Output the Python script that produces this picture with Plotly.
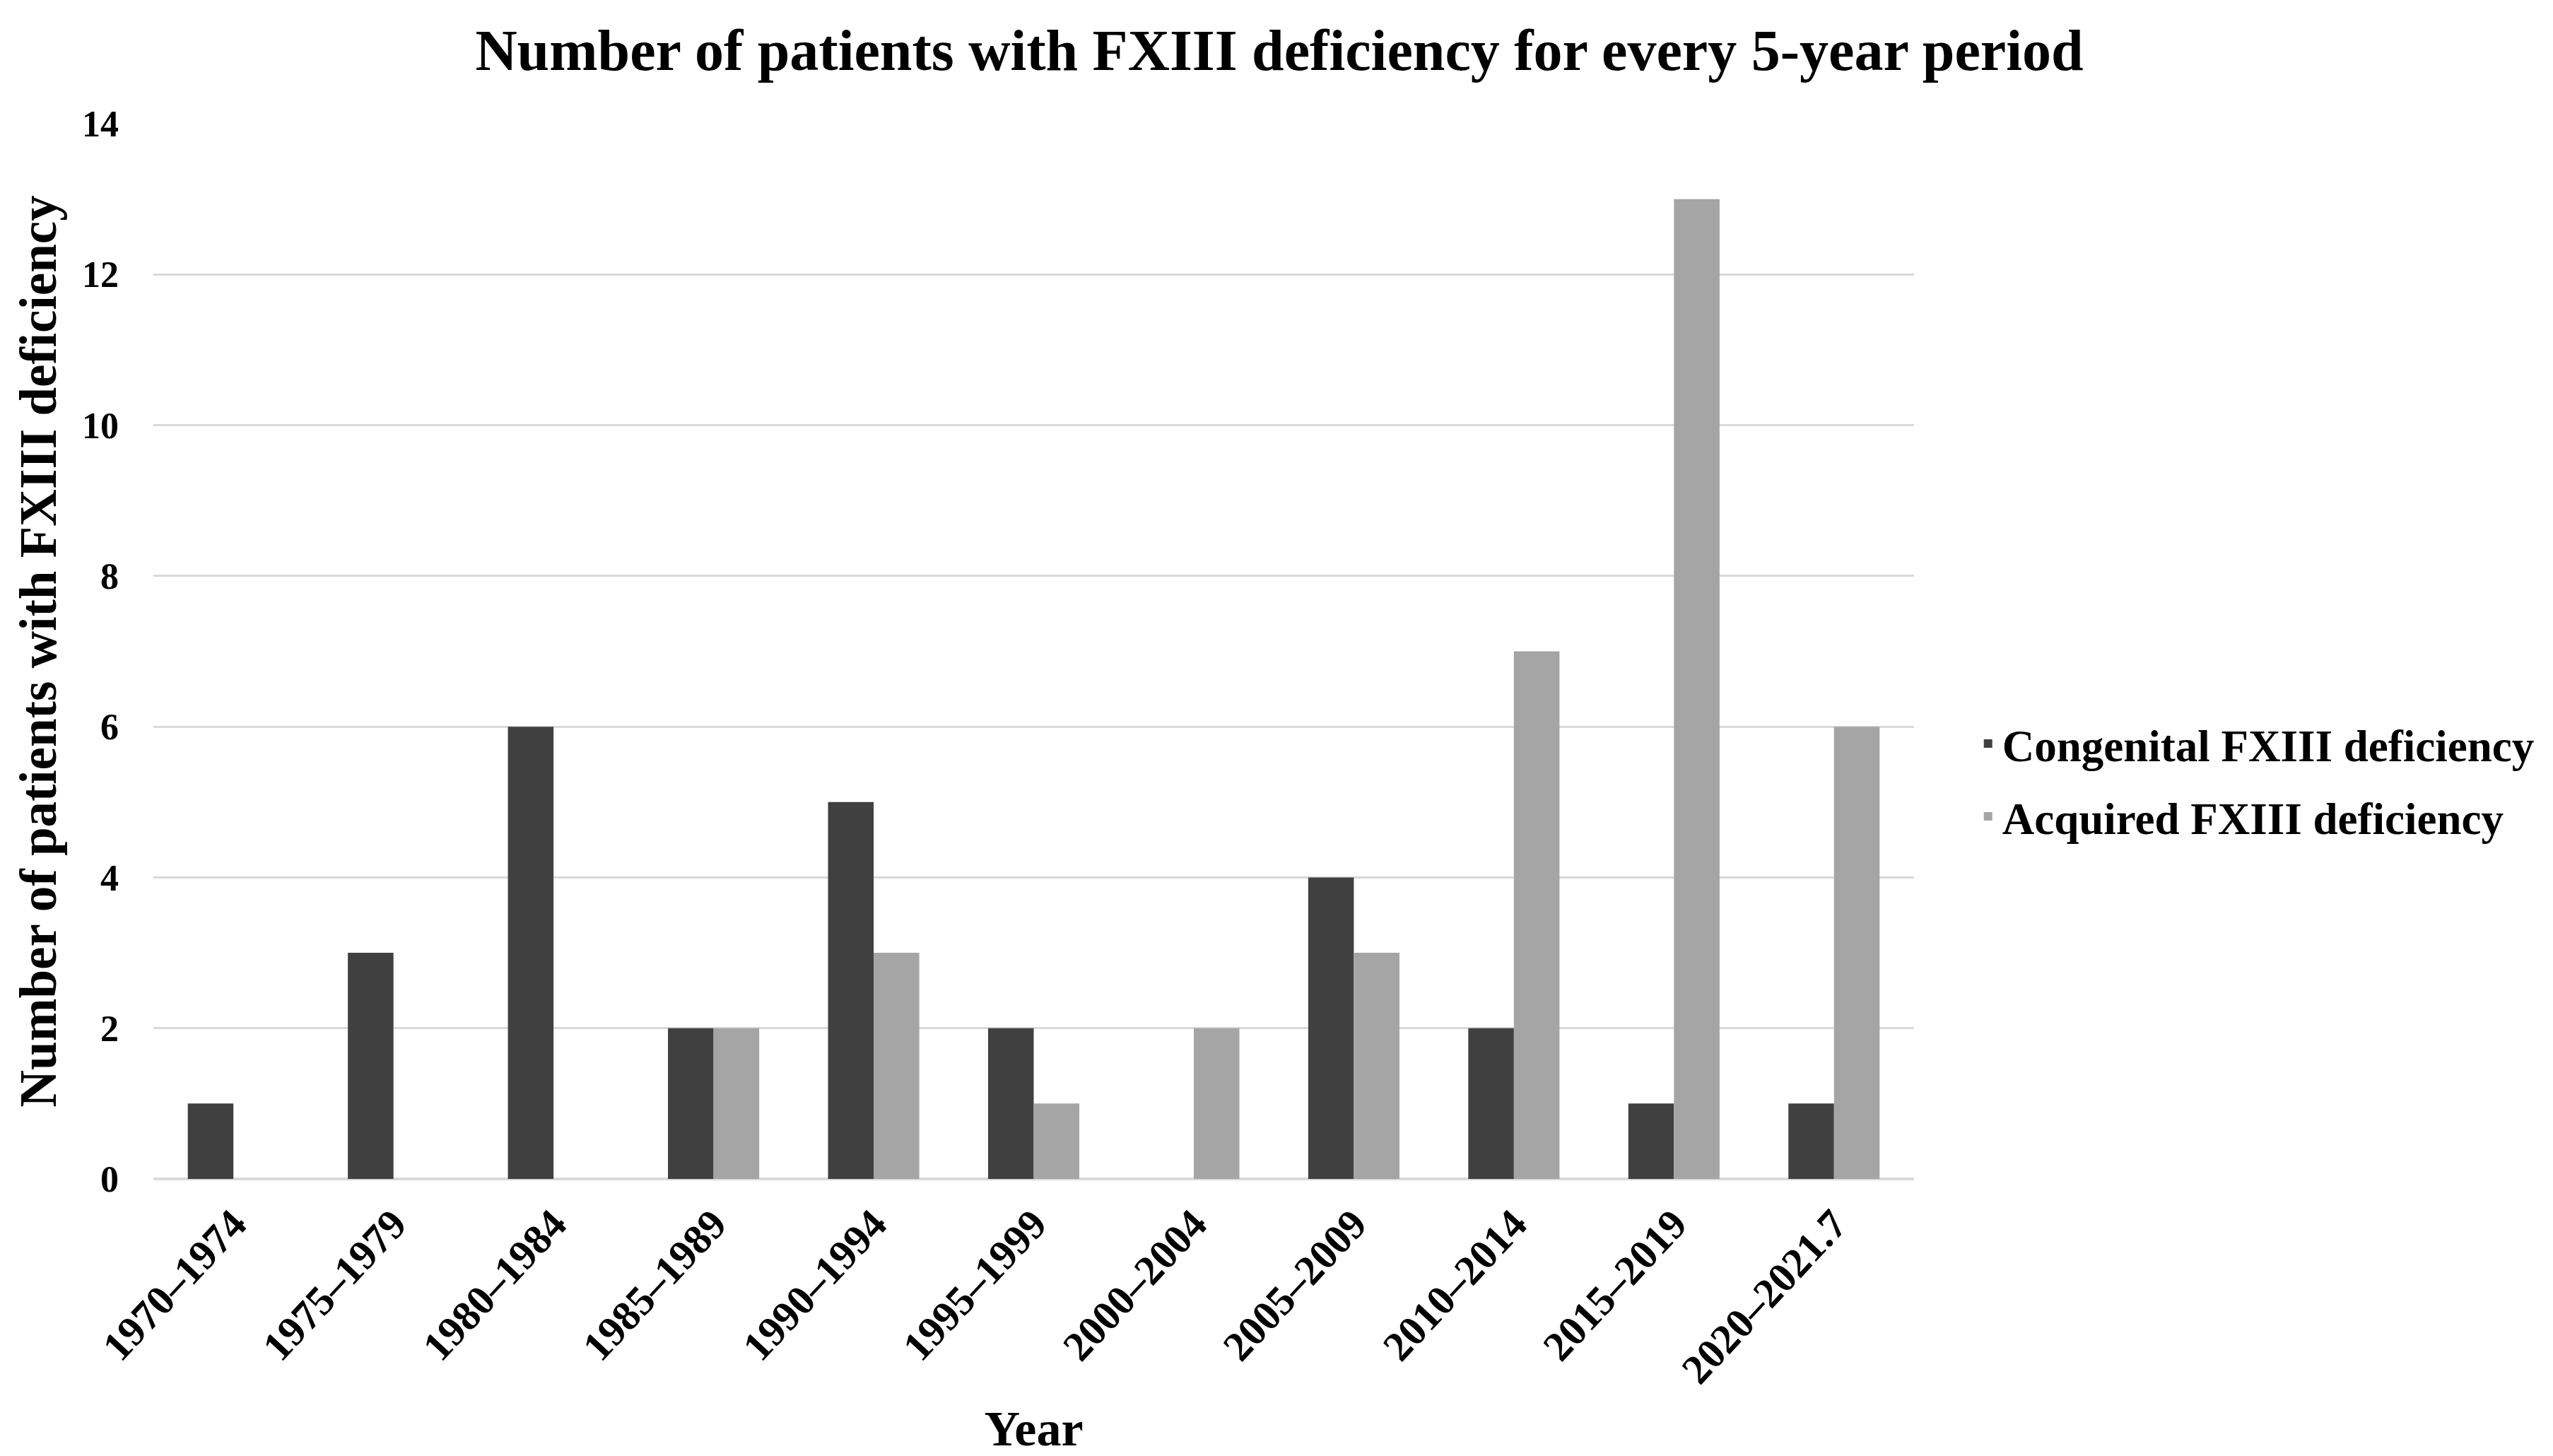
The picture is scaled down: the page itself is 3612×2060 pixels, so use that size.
import plotly.graph_objects as go

periods = ["1970–1974", "1975–1979", "1980–1984", "1985–1989", "1990–1994",
           "1995–1999", "2000–2004", "2005–2009", "2010–2014", "2015–2019",
           "2020–2021.7"]
congenital = [1, 3, 6, 2, 5, 2, 0, 4, 2, 1, 1]
acquired = [0, 0, 0, 2, 3, 1, 2, 3, 7, 13, 6]
y_ticks = [0, 2, 4, 6, 8, 10, 12, 14]

FONT = "Liberation Serif, Times New Roman, serif"
# page body has an 8px margin; size the figure so it ends at the window edge
W, H = 3604, 2052

fig = go.Figure()
fig.add_trace(go.Bar(x=periods, y=congenital, name="Congenital FXIII deficiency",
                     legendgroup="c",
                     marker=dict(color="#404040", line=dict(width=0))))
fig.add_trace(go.Bar(x=periods, y=acquired, name="Acquired FXIII deficiency",
                     legendgroup="a",
                     marker=dict(color="#a5a5a5", line=dict(width=0))))

fig.update_layout(
    width=W, height=H,
    margin=dict(l=209, r=904, t=167, b=392, autoexpand=False),
    paper_bgcolor="white", plot_bgcolor="white",
    font=dict(family=FONT, color="black", weight="bold"),
    barmode="group", bargap=0.43, bargroupgap=0,
    title=dict(text="Number of patients with FXIII deficiency for every 5-year period",
               x=0.5, xanchor="center", y=1 - 62 / H, yanchor="middle",
               yref="container",
               font=dict(family=FONT, size=82, color="black", weight="bold")),
    legend=dict(x=1.034, xanchor="left", y=0.378, yanchor="middle",
                font=dict(family=FONT, size=63, color="black", weight="bold"),
                bgcolor="rgba(0,0,0,0)", tracegroupgap=18),
    showlegend=True,
)

fig.update_yaxes(
    range=[0, 14], tickvals=y_ticks, ticktext=[str(v) for v in y_ticks],
    showgrid=True, gridcolor="#d9d9d9", gridwidth=3,
    zeroline=True, zerolinecolor="#d9d9d9", zerolinewidth=4,
    showline=False, ticks="", ticklabelstandoff=48,
    tickfont=dict(family=FONT, size=52, color="black", weight="bold"),
    title=dict(text="Number of patients with FXIII deficiency", standoff=12,
               font=dict(family=FONT, size=73, color="black", weight="bold")),
)
fig.update_xaxes(
    showgrid=False, showline=False, ticks="", tickangle=-47,
    ticklabelstandoff=16,
    tickfont=dict(family=FONT, size=59, color="black", weight="bold"),
    title=dict(text="Year", standoff=28,
               font=dict(family=FONT, size=70, color="black", weight="bold")),
)

fig.write_html("out.html")
